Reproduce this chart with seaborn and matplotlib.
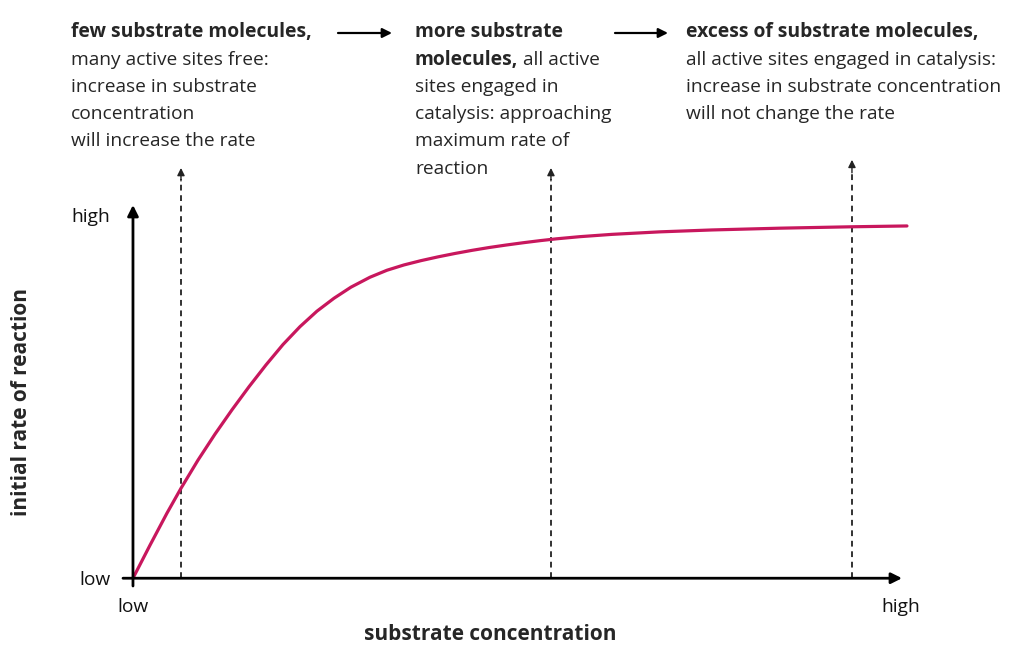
import matplotlib
matplotlib.use("Agg")
import matplotlib.pyplot as plt
import pandas as pd
import seaborn as sns

sns.set_style("white")
plt.rcParams["font.family"] = ["Open Sans", "DejaVu Sans"]

# curve (x: substrate concentration, y: initial rate, 0-100 scale)
substrate = [0, 2.215, 4.43, 6.254, 8.469, 10.684, 12.899, 15.114, 17.329,
             19.544, 21.759, 23.974, 26.189, 28.404, 30.879, 33.094, 35.309,
             37.524, 39.739, 41.954, 44.169, 46.384, 48.599, 50.814, 53.029,
             55.244, 58.241, 62.41, 68.664, 75.44, 84.3, 93.681, 100.847]
rate = [0, 8.91, 17.58, 24.28, 31.89, 38.91, 45.48, 51.71, 57.6, 63.11,
        67.94, 72.13, 75.61, 78.61, 81.29, 83.18, 84.61, 85.77, 86.79, 87.71,
        88.55, 89.31, 89.98, 90.6, 91.17, 91.68, 92.25, 92.87, 93.55, 94.06,
        94.54, 94.92, 95.14]

marker_x = [6.254, 54.46, 93.68]
marker_top = [110.8, 110.8, 113.0]

x_ticks = [0, 100]
x_labels = ["low", "high"]
y_ticks = [0, 98]
y_labels = ["low", "high"]

W, H = 1024, 665
BODY = 13.8
HEAD = 13.9
CURVE = "#c8175d"


def fx(px):
    return px / W


def fy(py):
    return 1 - py / H


fig = plt.figure(figsize=(W / 100, H / 100), dpi=100)
ax = fig.add_axes([fx(123), fy(586), 779 / W, 381 / H])

df = pd.DataFrame({"substrate": substrate, "rate": rate})
sns.lineplot(data=df, x="substrate", y="rate", ax=ax, color=CURVE, lw=2.3,
             clip_on=False, zorder=3)

ax.set_xlim(-1.3, 100.2)
ax.set_ylim(-2.1, 100.8)
sns.despine(ax=ax, left=True, bottom=True)
ax.set_xlabel("")
ax.set_ylabel("")
ax.set_xticks(x_ticks, x_labels)
ax.set_yticks(y_ticks, y_labels)
ax.tick_params(length=0, labelsize=BODY, colors="#111111")
ax.tick_params(axis="x", pad=9)
ax.tick_params(axis="y", pad=9)

# axes as arrows
arrow = dict(arrowstyle="-|>", lw=2.0, color="black", mutation_scale=16,
             shrinkA=0, shrinkB=0)
ax.annotate("", xy=(100.2, 0), xytext=(-1.3, 0), arrowprops=arrow,
            annotation_clip=False)
ax.annotate("", xy=(0, 100.8), xytext=(0, -2.1), arrowprops=arrow,
            annotation_clip=False)

# dashed pointers up to the text blocks
for mx, top in zip(marker_x, marker_top):
    ax.plot([mx, mx], [0, top - 3], color="#222222", lw=1.3,
            linestyle=(0, (3.2, 2.6)), clip_on=False, zorder=2)
    ax.annotate("", xy=(mx, top), xytext=(mx, top - 3.5),
                arrowprops=dict(arrowstyle="-|>", lw=1.0, color="#222222",
                                mutation_scale=11, shrinkA=0, shrinkB=0),
                annotation_clip=False)

fig.text(fx(22), fy(402), "initial rate of reaction", rotation=90,
         fontsize=15, fontweight="bold", ha="center", va="center")
fig.text(fx(490), fy(635), "substrate concentration",
         fontsize=15, fontweight="bold", ha="center", va="center")

# text blocks along the top
line_y = [32, 60, 87, 114, 141, 169]


def block(x0, lines):
    for (bold, regular), yy in zip(lines, line_y):
        t = None
        if bold:
            t = fig.text(fx(x0), fy(yy), bold, fontsize=HEAD, fontweight="bold",
                         va="center", ha="left")
        if regular:
            xr = x0
            if t is not None:
                fig.canvas.draw()
                bb = t.get_window_extent()
                xr = bb.x1 + 5
            fig.text(fx(xr), fy(yy), regular, fontsize=BODY, va="center", ha="left")


block(71, [("few substrate molecules,", None),
           (None, "many active sites free:"),
           (None, "increase in substrate"),
           (None, "concentration"),
           (None, "will increase the rate")])
block(415, [("more substrate", None),
            ("molecules,", "all active"),
            (None, "sites engaged in"),
            (None, "catalysis: approaching"),
            (None, "maximum rate of"),
            (None, "reaction")])
block(686, [("excess of substrate molecules,", None),
            (None, "all active sites engaged in catalysis:"),
            (None, "increase in substrate concentration"),
            (None, "will not change the rate")])

for x0, x1 in [(338, 392), (615, 668)]:
    fig.add_artist(matplotlib.patches.FancyArrowPatch(
        (fx(x0), fy(33)), (fx(x1), fy(33)), transform=fig.transFigure,
        arrowstyle="-|>", lw=1.6, color="black", mutation_scale=14,
        shrinkA=0, shrinkB=0))

fig.savefig("out.png", dpi=100, facecolor="white")
